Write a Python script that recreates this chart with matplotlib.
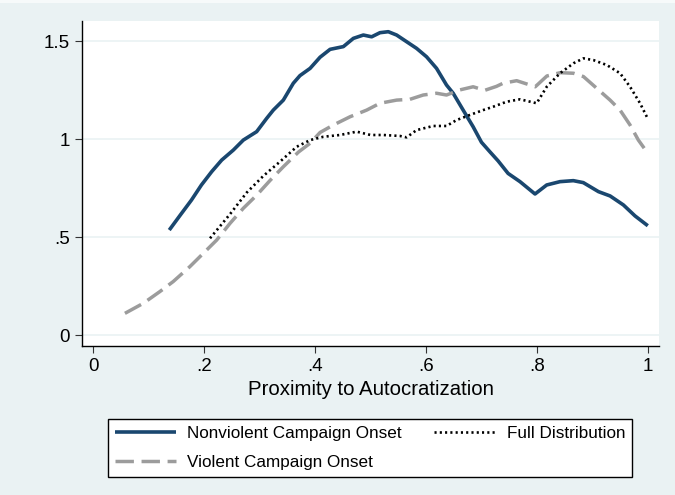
import matplotlib
matplotlib.use("Agg")
import matplotlib.pyplot as plt
from matplotlib.patches import Rectangle

plt.rcParams['font.family'] = ['Liberation Sans', 'DejaVu Sans']

# Smoothed densities by proximity to autocratization
nonviolent_x = [0.137, 0.157, 0.177, 0.195, 0.2135, 0.2315, 0.2525, 0.2705, 0.2946, 0.3127,
                0.3246, 0.3427, 0.3607, 0.3727, 0.391, 0.409, 0.427, 0.451, 0.469, 0.487,
                0.502, 0.517, 0.532, 0.547, 0.565, 0.583, 0.601, 0.619, 0.637, 0.649,
                0.667, 0.685, 0.700, 0.715, 0.730, 0.748, 0.7695, 0.7966, 0.8177, 0.8417,
                0.8657, 0.8837, 0.911, 0.932, 0.956, 0.977, 1.0]
nonviolent_y = [0.537, 0.614, 0.690, 0.767, 0.835, 0.894, 0.945, 0.996, 1.039, 1.107,
                1.149, 1.200, 1.286, 1.325, 1.362, 1.419, 1.459, 1.473, 1.515, 1.532,
                1.523, 1.544, 1.549, 1.532, 1.498, 1.464, 1.421, 1.362, 1.277, 1.235,
                1.149, 1.064, 0.985, 0.937, 0.890, 0.826, 0.784, 0.721, 0.767, 0.784,
                0.789, 0.779, 0.733, 0.711, 0.665, 0.609, 0.559]

violent_x = [0.057, 0.090, 0.120, 0.144, 0.174, 0.2015, 0.2225, 0.2465, 0.2705, 0.2947,
             0.3187, 0.3427, 0.370, 0.391, 0.409, 0.433, 0.463, 0.493, 0.517, 0.547,
             0.571, 0.595, 0.619, 0.637, 0.661, 0.685, 0.706, 0.727, 0.739, 0.7635,
             0.7876, 0.797, 0.818, 0.842, 0.866, 0.884, 0.908, 0.932, 0.950, 0.968,
             0.983, 1.0]
violent_y = [0.112, 0.163, 0.223, 0.274, 0.350, 0.427, 0.486, 0.571, 0.648, 0.715,
             0.790, 0.860, 0.935, 0.980, 1.035, 1.073, 1.115, 1.149, 1.184, 1.200,
             1.204, 1.226, 1.235, 1.226, 1.252, 1.268, 1.250, 1.270, 1.286, 1.299,
             1.277, 1.268, 1.323, 1.340, 1.337, 1.320, 1.260, 1.200, 1.149, 1.073,
             0.996, 0.929]

full_x = [0.2105, 0.2465, 0.2766, 0.3066, 0.3367, 0.3668, 0.391, 0.415, 0.445, 0.475,
          0.500, 0.523, 0.553, 0.565, 0.583, 0.613, 0.637, 0.655, 0.679, 0.703,
          0.721, 0.7456, 0.7695, 0.7876, 0.7996, 0.8177, 0.8417, 0.866, 0.884, 0.902,
          0.926, 0.950, 0.968, 0.986, 1.0]
full_y = [0.495, 0.618, 0.728, 0.813, 0.886, 0.962, 0.996, 1.013, 1.022, 1.039,
          1.022, 1.022, 1.017, 1.010, 1.047, 1.068, 1.068, 1.098, 1.124, 1.149,
          1.166, 1.192, 1.204, 1.192, 1.184, 1.268, 1.337, 1.388, 1.413, 1.404,
          1.379, 1.337, 1.268, 1.184, 1.105]

x_ticks = [0, 0.2, 0.4, 0.6, 0.8, 1.0]
x_tick_labels = ["0", ".2", ".4", ".6", ".8", "1"]
y_ticks = [0, 0.5, 1.0, 1.5]
y_tick_labels = ["0", ".5", "1", "1.5"]

BG = "#EAF2F3"
W, H = 675, 495

fig = plt.figure(figsize=(W / 100, H / 100), dpi=100, facecolor=BG)
fig.patches.append(Rectangle((0, 1 - 3 / H), 1, 3 / H, transform=fig.transFigure,
                             facecolor="#F7FAFA", edgecolor="none", zorder=0))

ax = fig.add_axes([82 / W, 1 - 346 / H, (659 - 82) / W, (346 - 21) / H])
ax.set_facecolor("white")

ax.plot(nonviolent_x, nonviolent_y, color="#1A476F", lw=2.6,
        solid_capstyle="butt", label="Nonviolent Campaign Onset", zorder=3)
ax.plot(violent_x, violent_y, color="#9C9C9C", lw=2.5,
        dashes=(5.3, 2.2), dash_capstyle="butt", label="Violent Campaign Onset", zorder=3)
ax.plot(full_x, full_y, color="black", lw=1.9,
        dashes=(0.8, 1.2), dash_capstyle="butt", label="Full Distribution", zorder=3)

ax.set_xlim(-0.0204, 1.0202)
ax.set_ylim(-0.0546, 1.6036)
ax.set_xticks(x_ticks)
ax.set_xticklabels(x_tick_labels)
ax.set_yticks(y_ticks)
ax.set_yticklabels(y_tick_labels)

ax.yaxis.grid(True, color=BG, lw=1.2)
ax.xaxis.grid(False)
ax.set_axisbelow(True)

for side in ("top", "right"):
    ax.spines[side].set_visible(False)
for side in ("left", "bottom"):
    ax.spines[side].set_color("black")
    ax.spines[side].set_linewidth(1.0)

ax.tick_params(axis="both", direction="out", length=5, width=0.8, color="#333333",
               labelsize=13.5, labelcolor="black", pad=3.5)

ax.set_xlabel("Proximity to Autocratization", fontsize=14.7, labelpad=4)

handles, labels = ax.get_legend_handles_labels()
leg = fig.legend(handles, labels, ncol=2, loc="center",
                 bbox_to_anchor=(107 / W, 1 - 478 / H, (633 - 107) / W, 60 / H),
                 frameon=True, fancybox=False, edgecolor="black", facecolor="white",
                 framealpha=1, fontsize=12.3, handlelength=3.6, handletextpad=0.65,
                 columnspacing=1.9, labelspacing=0.85, borderpad=0.38)
leg.get_frame().set_linewidth(1.0)

fig.savefig("out.png", dpi=100, facecolor=BG)
